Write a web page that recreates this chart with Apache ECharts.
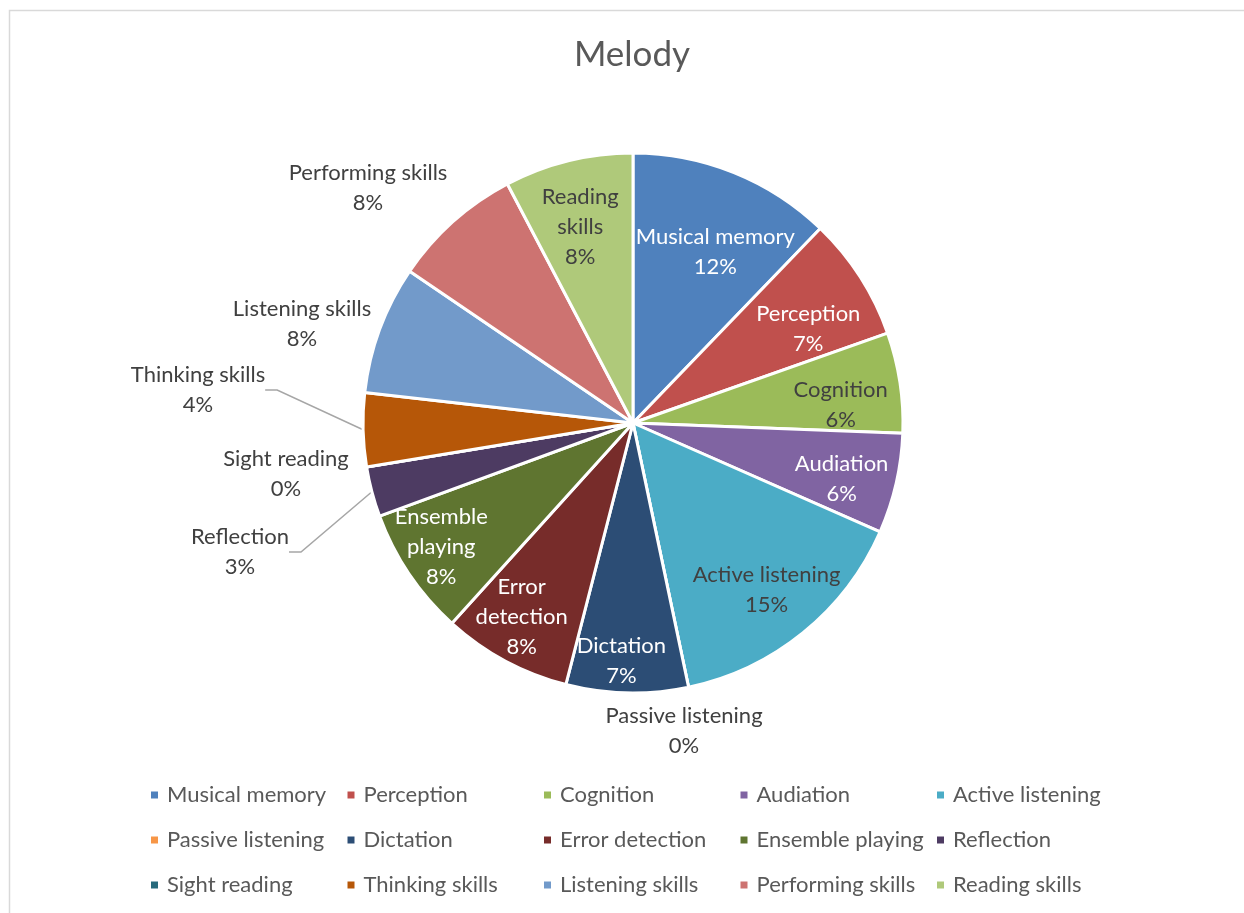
<!DOCTYPE html>
<html>
<head>
<meta charset="utf-8">
<title>Melody</title>
<script src="https://cdn.jsdelivr.net/npm/echarts@6/dist/echarts.min.js"></script>
<style>
  html, body { margin: 0; padding: 0; background: #ffffff; }
  #chart { width: 1244px; height: 913px; }
</style>
</head>
<body>
<div id="chart"></div>
<script>
// Skill categories, clockwise from twelve o'clock
const categories = [
  'Musical memory', 'Perception', 'Cognition', 'Audiation', 'Active listening',
  'Passive listening', 'Dictation', 'Error detection', 'Ensemble playing', 'Reflection',
  'Sight reading', 'Thinking skills', 'Listening skills', 'Performing skills', 'Reading skills'
];
// Share of each category (percent)
const shares = [12.2, 7.4, 6.0, 6.0, 15.1, 0, 7.3, 7.7, 7.7, 3.0, 0, 4.4, 7.7, 7.8, 7.7];
// Slice colours in category order
const sliceColors = [
  '#4F81BD', '#C0504D', '#9BBB59', '#8064A2', '#4BACC6',
  '#F79646', '#2C4D75', '#772C2A', '#5F7530', '#4D3B62',
  '#276A7C', '#B65708', '#729ACA', '#CD7371', '#AFC97A'
];

const FONT = 'Lato, "Open Sans", sans-serif';
const CX = 633, CY = 423, RADIUS = 270, LABEL_R = 212;

// Label styling helpers
const darkTextInside = new Set(['Cognition', 'Active listening', 'Reading skills']);
const wrappedNames = {
  'Error detection': 'Error\ndetection',
  'Ensemble playing': 'Ensemble\nplaying',
  'Reading skills': 'Reading\nskills'
};
// Labels placed beside the pie (block centres)
const outsideLabelAt = {
  'Performing skills': [368, 188],
  'Listening skills': [302, 324],
  'Thinking skills': [198, 390],
  'Sight reading': [286, 474],
  'Reflection': [240, 552],
  'Passive listening': [684, 731]
};
const withLeader = new Set(['Thinking skills', 'Reflection']);
// Small adjustments of inside labels
const labelNudge = {
  'Musical memory': [3, 26],
  'Perception': [-3, 21],
  'Cognition': [-2, 14],
  'Audiation': [2, 8],
  'Active listening': [0, 2],
  'Dictation': [-7, 26],
  'Error detection': [-11, 7],
  'Ensemble playing': [-16, 5],
  'Reading skills': [-2, 10]
};

const pieData = categories.map((name, i) => {
  const outside = !!outsideLabelAt[name];
  return {
    name: name,
    value: shares[i],
    itemStyle: { color: sliceColors[i] },
    label: {
      position: outside ? 'outside' : 'inside',
      color: (outside || darkTextInside.has(name)) ? '#404040' : '#ffffff'
    },
    labelLine: { show: withLeader.has(name) }
  };
});

const legendColumns = [0, 1, 2, 3, 4].map(c => ({
  orient: 'vertical',
  left: 149 + c * 196.5,
  top: 783,
  padding: 0,
  itemWidth: 15,
  itemHeight: 9,
  itemGap: 21,
  icon: 'path://M0,0H9V9H0Z',
  selectedMode: false,
  data: categories.filter((_, i) => i % 5 === c),
  textStyle: { fontFamily: FONT, fontSize: 22, color: '#595959', lineHeight: 24 }
}));

const chart = echarts.init(document.getElementById('chart'), null, { renderer: 'canvas' });
chart.setOption({
  backgroundColor: '#ffffff',
  animation: false,
  graphic: [{
    type: 'rect',
    shape: { x: 9.5, y: 10.5, width: 1300, height: 1000 },
    style: { fill: 'none', stroke: '#d9d9d9', lineWidth: 1.5 },
    silent: true
  }],
  title: {
    text: 'Melody',
    left: 632,
    top: 37,
    padding: 0,
    textAlign: 'center',
    textStyle: { fontFamily: FONT, fontSize: 35, fontWeight: 'normal', color: '#595959' }
  },
  legend: legendColumns,
  series: [{
    type: 'pie',
    center: [CX, CY],
    radius: RADIUS,
    startAngle: 90,
    clockwise: true,
    percentPrecision: 0,
    avoidLabelOverlap: false,
    emphasis: { disabled: true },
    itemStyle: { borderColor: '#ffffff', borderWidth: 3 },
    label: {
      show: true,
      fontFamily: FONT,
      fontSize: 22,
      lineHeight: 30,
      align: 'center',
      formatter: p => (wrappedNames[p.name] || p.name) + '\n' + p.percent + '%'
    },
    labelLine: {
      show: false,
      length: 10,
      length2: 12,
      smooth: false,
      lineStyle: { color: '#a6a6a6', width: 1.5 }
    },
    labelLayout: function (p) {
      const name = categories[p.dataIndex];
      if (outsideLabelAt[name]) {
        const pos = outsideLabelAt[name];
        return { x: pos[0], y: pos[1], align: 'center', verticalAlign: 'middle' };
      }
      const r = p.labelRect;
      const dx = r.x + r.width / 2 - CX;
      const dy = r.y + r.height / 2 - CY;
      const d = Math.hypot(dx, dy) || 1;
      const n = labelNudge[name] || [0, 0];
      return {
        x: CX + dx / d * LABEL_R + n[0],
        y: CY + dy / d * LABEL_R + n[1],
        align: 'center',
        verticalAlign: 'middle'
      };
    },
    data: pieData
  }]
});
</script>
</body>
</html>
